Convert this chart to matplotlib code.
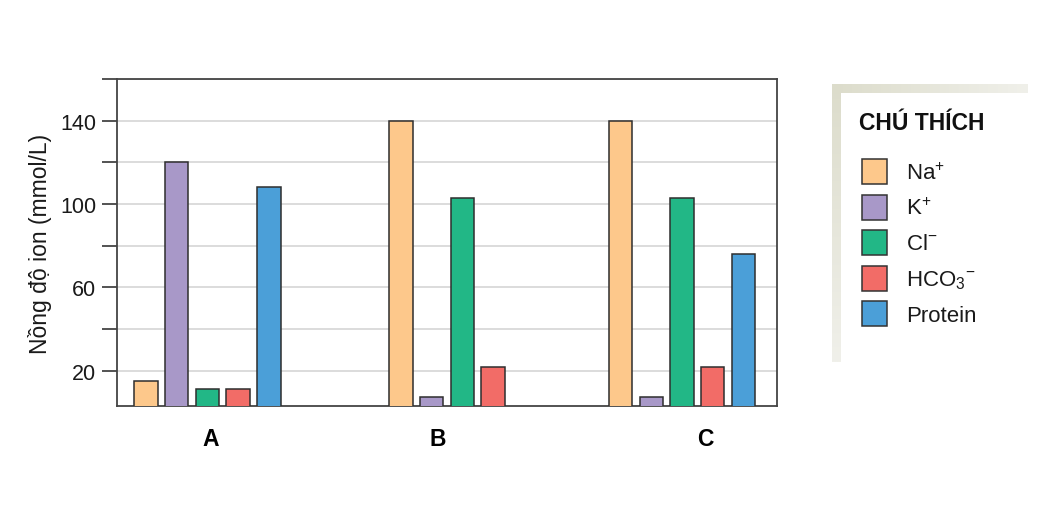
import matplotlib
matplotlib.use("Agg")
import matplotlib.pyplot as plt
from matplotlib.patches import Rectangle
from matplotlib.colors import LinearSegmentedColormap
import numpy as np

plt.rcParams['font.family'] = ['Liberation Sans', 'DejaVu Sans']
plt.rcParams['mathtext.fontset'] = 'custom'
plt.rcParams['mathtext.rm'] = 'Liberation Sans'
plt.rcParams['mathtext.it'] = 'Liberation Sans:italic'
plt.rcParams['mathtext.bf'] = 'Liberation Sans:bold'

# data
groups = ["A", "B", "C"]
ions = ["Na$^{+}$", "K$^{+}$", "Cl$^{-}$", "HCO$_{3}$$^{-}$", "Protein"]
na = [15, 140, 140]
k = [120, 7.5, 7.5]
cl = [11.5, 103, 103]
hco3 = [11.5, 22, 22]
protein = [108, 0, 76]
colors = ['#FDC88B', '#A898C8', '#22B786', '#F26C67', '#4B9FD8']

series = [na, k, cl, hco3, protein]
group_x = np.array([0.0, 8.29, 15.43])
label_x = [0.12, 7.5, 16.18]
width = 0.76

fig = plt.figure(figsize=(10.52, 5.10), dpi=100)
ax = fig.add_axes([0.1112, 0.2015, 0.6274, 0.6416])

for i, vals in enumerate(series):
    ax.bar(group_x + (i - 2), vals, width, color=colors[i],
           edgecolor='#2e2e2e', linewidth=1.1, zorder=3)

ax.set_xlim(-2.94, 18.52)
ax.set_ylim(3, 160)
ax.set_yticks(range(20, 161, 20))
ax.set_yticklabels([str(v) if v in (20, 60, 100, 140) else "" for v in range(20, 161, 20)],
                   fontsize=15.5)
ax.tick_params(axis='y', length=11, width=1.3, color='#444444', pad=4, labelcolor='#1a1a1a')
ax.set_xticks(label_x)
ax.set_xticklabels(groups, fontsize=16.5, fontweight='bold')
ax.tick_params(axis='x', length=0, pad=15)
ax.yaxis.grid(True, color='#d6d6d6', linewidth=1.2, zorder=0)
ax.set_axisbelow(True)
for s in ax.spines.values():
    s.set_color('#444444')
    s.set_linewidth(1.3)
ax.set_ylabel("Nồng độ ion (mmol/L)", fontsize=16.5, color='#1a1a1a', labelpad=6)

# legend panel, drawn in figure pixels
W, H = 1052, 510
def fx(px):
    return px / W
def fy(py):
    return 1 - py / H

cmap = LinearSegmentedColormap.from_list("band", ['#dcdccb', '#f0f0ea'])
top_band = fig.add_axes([fx(832), fy(94), (1028 - 832) / W, 9 / H])
top_band.imshow(np.linspace(0, 1, 200)[None, :], aspect='auto', cmap=cmap)
top_band.axis('off')
left_band = fig.add_axes([fx(832), fy(363), 9 / W, (363 - 85) / H])
left_band.imshow(np.linspace(0, 0.8, 200)[:, None], aspect='auto', cmap=cmap)
left_band.axis('off')

fig.text(fx(859), fy(123), "CHÚ THÍCH", fontsize=16.5, fontweight='bold',
         va='center', ha='left', color='#111111')
for i, lab in enumerate(ions):
    top = 160 + i * 35.5
    fig.patches.append(Rectangle((fx(862), fy(top + 25)), 25 / W, 25 / H,
                                 transform=fig.transFigure, facecolor=colors[i],
                                 edgecolor='#333333', linewidth=1.1, zorder=2))
    fig.text(fx(906), fy(top + 14), lab, fontsize=16, va='center', ha='left',
             color='#1a1a1a')

fig.savefig("out.png", dpi=100)
